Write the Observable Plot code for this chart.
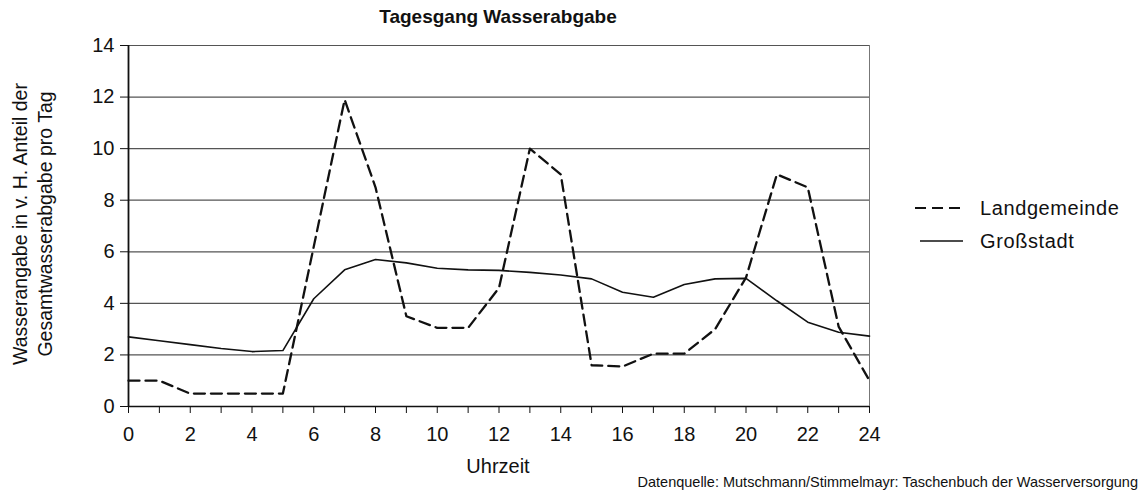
<!DOCTYPE html>
<html><head><meta charset="utf-8">
<script src="https://cdn.jsdelivr.net/npm/d3@7"></script>
<script src="https://cdn.jsdelivr.net/npm/@observablehq/plot@0.6"></script>
<style>
html,body{margin:0;padding:0;background:#fff;}
#wrap{position:relative;width:1142px;height:493px;overflow:hidden;font-family:"Liberation Sans",Arial,sans-serif;color:#111;}
#wrap svg{position:absolute;left:0;top:0;}
.abs{position:absolute;white-space:nowrap;}
</style></head>
<body><div id="wrap"></div>
<script>
const hours = [0,1,2,3,4,5,6,7,8,9,10,11,12,13,14,15,16,17,18,19,20,21,22,23,24];
const landgemeinde = [1.0,1.0,0.5,0.5,0.5,0.5,6.2,11.9,8.5,3.5,3.05,3.05,4.6,10.0,9.0,1.6,1.55,2.05,2.05,3.0,5.0,9.0,8.5,3.1,1.0];
const grossstadt = [2.7,2.55,2.4,2.25,2.13,2.17,4.18,5.3,5.7,5.57,5.36,5.3,5.28,5.2,5.1,4.95,4.43,4.24,4.73,4.95,4.97,4.1,3.27,2.88,2.73];
const yTicks = [0,2,4,6,8,10,12,14];
const xLabelTicks = [0,2,4,6,8,10,12,14,16,18,20,22,24];
const seriesNames = ["Landgemeinde","Großstadt"];
const title = "Tagesgang Wasserabgabe";
const yLabel = ["Wasserangabe in v. H. Anteil der","Gesamtwasserabgabe pro Tag"];
const xLabel = "Uhrzeit";
const caption = "Datenquelle: Mutschmann/Stimmelmayr: Taschenbuch der Wasserversorgung";

const rows = [];
hours.forEach((h,i)=>{
  rows.push({h, v: landgemeinde[i], s: seriesNames[0]});
  rows.push({h, v: grossstadt[i], s: seriesNames[1]});
});

const chart = Plot.plot({
  width: 1142, height: 493,
  marginLeft: 128, marginRight: 273, marginTop: 45, marginBottom: 87,
  style: {fontFamily: '"Liberation Sans", Arial, sans-serif', fontSize: "19px", color: "#111", background: "transparent"},
  x: {domain: [0,24]},
  y: {domain: [0,14]},
  marks: [
    Plot.ruleY(yTicks.filter(d=>d>0), {stroke: "#555", strokeWidth: 1.2, strokeOpacity: 1}),
    Plot.ruleX([24], {stroke: "#777", strokeWidth: 1}),
    Plot.ruleX([0], {stroke: "#111", strokeWidth: 1.8}),
    Plot.ruleY([0], {stroke: "#111", strokeWidth: 1.5}),
    Plot.axisY({ticks: yTicks, tickSize: 8, tickPadding: 6, label: null, fontSize: 20, stroke: "#111"}),
    Plot.axisX({ticks: hours, tickSize: 7, tickFormat: () => "", label: null}),
    Plot.axisX({ticks: xLabelTicks, tickSize: 0, tickPadding: 20, label: null, fontSize: 20}),
    Plot.line(rows.filter(d=>d.s===seriesNames[1]), {x: "h", y: "v", stroke: "#111", strokeWidth: 1.6}),
    Plot.line(rows.filter(d=>d.s===seriesNames[0]), {x: "h", y: "v", stroke: "#111", strokeWidth: 2.3, strokeDasharray: "11,6"})
  ]
});
const wrap = document.getElementById("wrap");
wrap.appendChild(chart);

function addDiv(text, css){
  const d = document.createElement("div");
  d.className = "abs"; d.textContent = text;
  Object.assign(d.style, css); wrap.appendChild(d); return d;
}
addDiv(title, {left:"0px", width:"996px", textAlign:"center", top:"6px", fontFamily:'"Liberation Sans Narrow","Liberation Sans",sans-serif', fontWeight:"bold", fontSize:"19px"});
addDiv(xLabel, {left:"0px", width:"996px", textAlign:"center", top:"455px", fontSize:"20px"});
yLabel.forEach((t,i)=>{
  addDiv(t, {left: (i===0?21:46)+"px", top:"224px", fontSize:"19.5px", transform:"translate(-50%,-50%) rotate(-90deg)", lineHeight:"1"});
});
addDiv(caption, {right:"4px", top:"474px", fontFamily:'"Liberation Sans Narrow","Liberation Sans",sans-serif', fontSize:"14.5px"});

const legendItems = [{name: seriesNames[0], dash: "11,6", w: 2.2, y: 208, x1: 915, x2: 966}, {name: seriesNames[1], dash: null, w: 1.6, y: 241, x1: 920, x2: 963}];
const ns = "http://www.w3.org/2000/svg";
const lsvg = document.createElementNS(ns, "svg");
lsvg.setAttribute("width", 1142); lsvg.setAttribute("height", 493);
legendItems.forEach(it=>{
  const l = document.createElementNS(ns, "line");
  l.setAttribute("x1", it.x1); l.setAttribute("x2", it.x2);
  l.setAttribute("y1", it.y); l.setAttribute("y2", it.y);
  l.setAttribute("stroke", "#111"); l.setAttribute("stroke-width", it.w);
  if (it.dash) l.setAttribute("stroke-dasharray", it.dash);
  lsvg.appendChild(l);
  const t = document.createElementNS(ns, "text");
  t.setAttribute("x", 980); t.setAttribute("y", it.y); t.setAttribute("dy", "0.35em");
  t.setAttribute("font-size", "20"); t.setAttribute("fill", "#111");
  t.setAttribute("letter-spacing", "0.6");
  t.setAttribute("font-family", '"Liberation Sans", Arial, sans-serif');
  t.textContent = it.name;
  lsvg.appendChild(t);
});
wrap.appendChild(lsvg);
</script>
</body></html>
